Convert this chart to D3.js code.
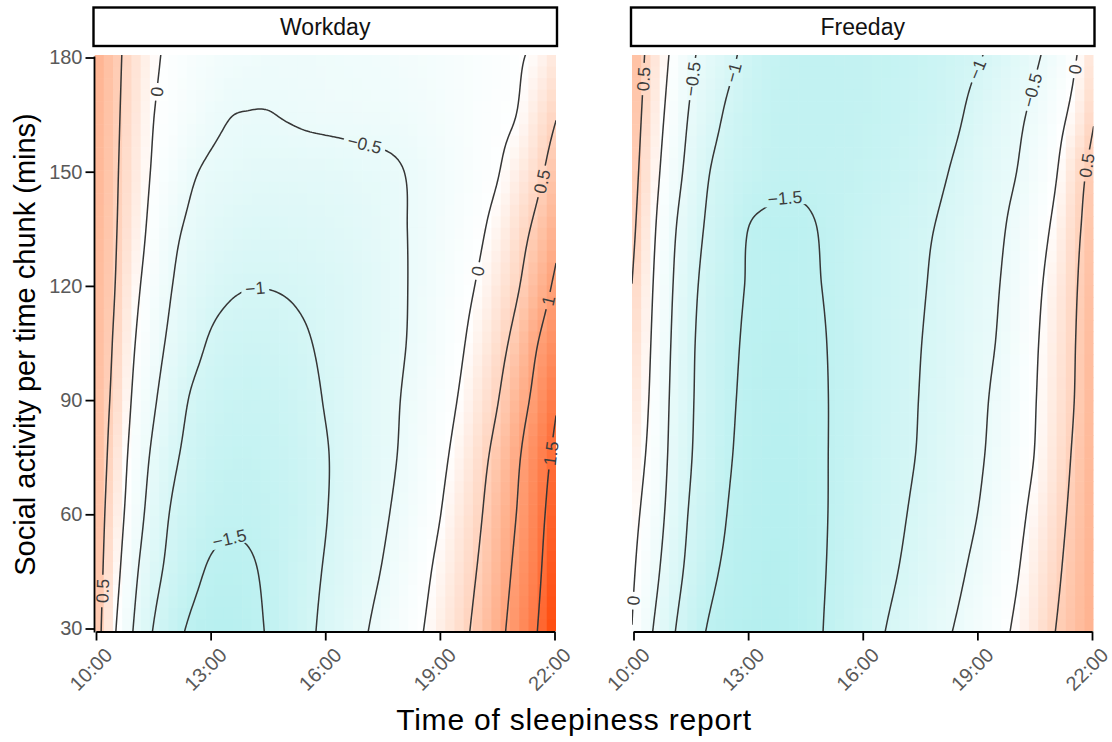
<!DOCTYPE html>
<html><head><meta charset="utf-8">
<script src="https://cdnjs.cloudflare.com/ajax/libs/d3/7.8.5/d3.min.js"></script>
<style>
body{margin:0;background:#fff}
svg{display:block}
text{font-family:"Liberation Sans",Arial,Helvetica,sans-serif}
</style>
</head><body>
<svg id="chart" width="1112" height="742"></svg>
<script>
// ---------- data ----------
const panels = ["Workday", "Freeday"];
const timeGrid = [10, 10.5, 11, 11.5, 12, 12.5, 13, 13.5, 14, 14.5, 15, 15.5, 16, 16.5, 17, 17.5, 18, 18.5, 19, 19.5, 20, 20.5, 21, 21.5, 22];
const activityGrid = [30, 45, 60, 75, 90, 105, 120, 135, 150, 165, 180];

// rows: one per activityGrid value (bottom -> top), columns: timeGrid
const workdayValues = [
  [0.68, 0.03, -0.53, -1.01, -1.33, -1.56, -1.64, -1.65, -1.59, -1.47, -1.28, -1.10, -0.91, -0.73, -0.55, -0.37, -0.20, -0.03, 0.17, 0.37, 0.60, 0.87, 1.16, 1.46, 1.85],
  [0.70, 0.15, -0.40, -0.84, -1.15, -1.39, -1.54, -1.57, -1.54, -1.44, -1.29, -1.13, -0.97, -0.81, -0.64, -0.48, -0.29, -0.11, 0.09, 0.30, 0.52, 0.79, 1.08, 1.38, 1.78],
  [0.72, 0.24, -0.26, -0.70, -1.05, -1.25, -1.39, -1.45, -1.44, -1.39, -1.31, -1.18, -1.02, -0.86, -0.71, -0.56, -0.39, -0.20, -0.01, 0.22, 0.44, 0.72, 1.00, 1.32, 1.68],
  [0.74, 0.32, -0.17, -0.58, -0.91, -1.14, -1.29, -1.36, -1.37, -1.33, -1.27, -1.16, -1.03, -0.88, -0.74, -0.61, -0.46, -0.27, -0.09, 0.12, 0.36, 0.62, 0.93, 1.25, 1.57],
  [0.72, 0.40, -0.07, -0.44, -0.76, -1.04, -1.18, -1.26, -1.28, -1.26, -1.20, -1.11, -0.98, -0.86, -0.74, -0.62, -0.49, -0.33, -0.16, 0.02, 0.25, 0.48, 0.79, 1.10, 1.43],
  [0.74, 0.45, 0.02, -0.32, -0.61, -0.85, -1.04, -1.13, -1.16, -1.15, -1.10, -1.03, -0.93, -0.83, -0.73, -0.63, -0.53, -0.39, -0.22, -0.06, 0.14, 0.36, 0.62, 0.96, 1.23],
  [0.76, 0.50, 0.11, -0.21, -0.50, -0.71, -0.86, -0.95, -0.99, -0.99, -0.97, -0.93, -0.88, -0.82, -0.74, -0.65, -0.54, -0.41, -0.27, -0.12, 0.03, 0.24, 0.45, 0.75, 1.05],
  [0.78, 0.53, 0.20, -0.12, -0.40, -0.58, -0.70, -0.77, -0.82, -0.83, -0.82, -0.80, -0.77, -0.73, -0.67, -0.61, -0.53, -0.42, -0.30, -0.18, -0.06, 0.11, 0.33, 0.57, 0.86],
  [0.80, 0.55, 0.25, -0.04, -0.24, -0.45, -0.56, -0.61, -0.65, -0.67, -0.67, -0.66, -0.65, -0.62, -0.59, -0.56, -0.51, -0.42, -0.32, -0.22, -0.12, -0.02, 0.17, 0.38, 0.66],
  [0.82, 0.57, 0.29, 0.01, -0.13, -0.27, -0.40, -0.49, -0.51, -0.51, -0.48, -0.45, -0.43, -0.42, -0.41, -0.40, -0.38, -0.33, -0.27, -0.20, -0.13, -0.07, 0.00, 0.23, 0.46],
  [0.85, 0.59, 0.33, 0.07, -0.09, -0.19, -0.27, -0.33, -0.37, -0.40, -0.40, -0.40, -0.39, -0.37, -0.36, -0.33, -0.30, -0.27, -0.24, -0.19, -0.15, -0.10, -0.04, 0.07, 0.26]
];
const freedayValues = [
  [-0.04, -0.49, -0.92, -1.27, -1.54, -1.64, -1.70, -1.72, -1.69, -1.62, -1.49, -1.34, -1.19, -1.03, -0.89, -0.75, -0.60, -0.46, -0.29, -0.13, 0.05, 0.26, 0.48, 0.67, 0.85],
  [0.03, -0.34, -0.78, -1.13, -1.41, -1.58, -1.66, -1.70, -1.69, -1.63, -1.51, -1.38, -1.24, -1.11, -0.98, -0.84, -0.70, -0.56, -0.40, -0.22, -0.04, 0.19, 0.41, 0.63, 0.84],
  [0.10, -0.22, -0.67, -1.05, -1.29, -1.52, -1.62, -1.67, -1.67, -1.62, -1.52, -1.40, -1.28, -1.16, -1.04, -0.91, -0.77, -0.64, -0.50, -0.31, -0.12, 0.10, 0.34, 0.58, 0.82],
  [0.18, -0.13, -0.60, -0.98, -1.23, -1.47, -1.59, -1.65, -1.66, -1.61, -1.52, -1.41, -1.30, -1.19, -1.08, -0.97, -0.83, -0.70, -0.56, -0.39, -0.19, 0.01, 0.27, 0.53, 0.80],
  [0.28, -0.08, -0.56, -0.95, -1.21, -1.44, -1.57, -1.62, -1.63, -1.59, -1.52, -1.41, -1.31, -1.20, -1.10, -0.99, -0.86, -0.73, -0.59, -0.43, -0.23, -0.02, 0.23, 0.48, 0.78],
  [0.37, -0.04, -0.52, -0.93, -1.19, -1.41, -1.55, -1.59, -1.60, -1.57, -1.51, -1.41, -1.31, -1.21, -1.11, -1.01, -0.89, -0.76, -0.62, -0.49, -0.27, -0.05, 0.20, 0.46, 0.76],
  [0.46, 0.01, -0.47, -0.88, -1.16, -1.37, -1.52, -1.55, -1.56, -1.54, -1.49, -1.40, -1.31, -1.22, -1.13, -1.04, -0.92, -0.79, -0.66, -0.53, -0.33, -0.10, 0.15, 0.43, 0.72],
  [0.55, 0.08, -0.40, -0.79, -1.09, -1.29, -1.50, -1.55, -1.56, -1.54, -1.47, -1.39, -1.31, -1.23, -1.15, -1.07, -0.97, -0.84, -0.71, -0.58, -0.40, -0.18, 0.06, 0.38, 0.66],
  [0.62, 0.17, -0.27, -0.66, -1.00, -1.19, -1.32, -1.41, -1.45, -1.44, -1.42, -1.40, -1.36, -1.31, -1.24, -1.16, -1.06, -0.93, -0.78, -0.64, -0.51, -0.29, -0.06, 0.29, 0.60],
  [0.68, 0.25, -0.16, -0.55, -0.83, -1.08, -1.25, -1.37, -1.43, -1.44, -1.44, -1.42, -1.39, -1.35, -1.30, -1.24, -1.16, -1.04, -0.88, -0.73, -0.59, -0.41, -0.17, 0.09, 0.44],
  [0.73, 0.33, -0.06, -0.43, -0.68, -0.90, -1.14, -1.30, -1.39, -1.43, -1.43, -1.42, -1.40, -1.37, -1.33, -1.28, -1.21, -1.12, -1.03, -0.89, -0.73, -0.56, -0.34, -0.07, 0.32]
];

const contourLevels = [-1.5, -1, -0.5, 0, 0.5, 1, 1.5];
const timeTicks = [10, 13, 16, 19, 22];
const timeTickLabels = ["10:00", "13:00", "16:00", "19:00", "22:00"];
const activityTicks = [30, 60, 90, 120, 150, 180];

// where the contour labels sit (level, time in hours, activity in mins)
const workdayLabelSpots = [
  {level: 0.5, time: 10.16, activity: 40},
  {level: 0, time: 11.6, activity: 171},
  {level: -0.5, time: 17.04, activity: 158},
  {level: -1, time: 14.16, activity: 118},
  {level: -1.5, time: 13.59, activity: 51},
  {level: 0, time: 20.0, activity: 124},
  {level: 0.5, time: 21.7, activity: 147},
  {level: 1, time: 21.86, activity: 116},
  {level: 1.5, time: 21.94, activity: 76}
];
const freedayLabelSpots = [
  {level: 0.5, time: 10.25, activity: 174},
  {level: -0.5, time: 11.56, activity: 174},
  {level: -1, time: 12.55, activity: 176},
  {level: -1.5, time: 13.99, activity: 141},
  {level: -1, time: 19.0, activity: 177},
  {level: -0.5, time: 20.44, activity: 171.5},
  {level: 0, time: 21.56, activity: 177},
  {level: 0.5, time: 21.87, activity: 152},
  {level: 0, time: 10.04, activity: 37}
];

const xTitle = "Time of sleepiness report";
const yTitle = "Social activity per time chunk (mins)";

// ---------- drawing ----------
const svg = d3.select("#chart");
const panelSpecs = [
  {name: panels[0], values: workdayValues, spots: workdayLabelSpots, x0: 96, x1: 554.5, yAxis: true},
  {name: panels[1], values: freedayValues, spots: freedayLabelSpots, x0: 633.5, x1: 1092, yAxis: false}
];
const yScale = d3.scaleLinear().domain([30, 180]).range([628.5, 57.5]);
const rasterTop = 55, rasterBottom = 631;

const maxAbs = d3.max(workdayValues.flat().concat(freedayValues.flat()), v => Math.abs(v));
const negInterp = d3.interpolateLab("#ffffff", "paleturquoise");
const posInterp = d3.interpolateLab("#ffffff", "orangered");
const fillColor = v => v < 0 ? negInterp(Math.min(1, -v / maxAbs)) : posInterp(Math.min(1, v / maxAbs));
const fmt = d3.format("");

function makeSampler(rows) {
  const nx = timeGrid.length, ny = activityGrid.length;
  const dx = timeGrid[1] - timeGrid[0], dy = activityGrid[1] - activityGrid[0];
  function at(i, j) {
    if (i < 0) return 2 * at(0, j) - at(1, j);
    if (i > nx - 1) return 2 * at(nx - 1, j) - at(nx - 2, j);
    if (j < 0) return 2 * at(i, 0) - at(i, 1);
    if (j > ny - 1) return 2 * at(i, ny - 1) - at(i, ny - 2);
    return rows[j][i];
  }
  const cr = (p0, p1, p2, p3, t) => 0.5 * (2 * p1 + (-p0 + p2) * t + (2 * p0 - 5 * p1 + 4 * p2 - p3) * t * t + (-p0 + 3 * p1 - 3 * p2 + p3) * t * t * t);
  return (h, v) => {
    const fx = (h - timeGrid[0]) / dx, fy = (v - activityGrid[0]) / dy;
    const i = Math.max(0, Math.min(nx - 2, Math.floor(fx)));
    const j = Math.max(0, Math.min(ny - 2, Math.floor(fy)));
    const tx = fx - i, ty = fy - j;
    const r = [-1, 0, 1, 2].map(d => cr(at(i - 1, j + d), at(i, j + d), at(i + 1, j + d), at(i + 2, j + d), tx));
    return cr(r[0], r[1], r[2], r[3], ty);
  };
}

function marching(grid, nx, ny, level) {
  const segs = [];
  for (let j = 0; j < ny - 1; j++) for (let i = 0; i < nx - 1; i++) {
    const a = grid[j * nx + i], b = grid[j * nx + i + 1], c = grid[(j + 1) * nx + i + 1], d = grid[(j + 1) * nx + i];
    const idx = (a >= level ? 1 : 0) | (b >= level ? 2 : 0) | (c >= level ? 4 : 0) | (d >= level ? 8 : 0);
    if (idx === 0 || idx === 15) continue;
    const e0 = () => [i + (level - a) / (b - a), j];
    const e1 = () => [i + 1, j + (level - b) / (c - b)];
    const e2 = () => [i + (level - d) / (c - d), j + 1];
    const e3 = () => [i, j + (level - a) / (d - a)];
    switch (idx) {
      case 1: case 14: segs.push([e3(), e0()]); break;
      case 2: case 13: segs.push([e0(), e1()]); break;
      case 3: case 12: segs.push([e3(), e1()]); break;
      case 4: case 11: segs.push([e1(), e2()]); break;
      case 6: case 9: segs.push([e0(), e2()]); break;
      case 7: case 8: segs.push([e3(), e2()]); break;
      case 5: segs.push([e3(), e0()]); segs.push([e1(), e2()]); break;
      case 10: segs.push([e0(), e1()]); segs.push([e3(), e2()]); break;
    }
  }
  return segs;
}

const defs = svg.append("defs");

panelSpecs.forEach((p, pi) => {
  const x = d3.scaleLinear().domain([timeTicks[0], timeTicks[timeTicks.length - 1]]).range([p.x0, p.x1]);
  const rl = p.x0 - 1.5, rr = p.x1 + 1.5;
  const f = makeSampler(p.values);

  defs.append("clipPath").attr("id", "clip" + pi)
    .append("rect").attr("x", rl).attr("y", rasterTop).attr("width", rr - rl).attr("height", rasterBottom - rasterTop);

  // raster tiles
  const NT = 50;
  const tw = (rr - rl) / NT, th = (rasterBottom - rasterTop) / NT;
  const tiles = [];
  for (let j = 0; j < NT; j++) for (let i = 0; i < NT; i++) {
    const cx = rl + (i + 0.5) * tw, cy = rasterTop + (j + 0.5) * th;
    tiles.push({x: rl + i * tw, y: rasterTop + j * th, v: f(x.invert(cx), yScale.invert(cy))});
  }
  svg.append("g").attr("clip-path", `url(#clip${pi})`)
    .selectAll("rect").data(tiles).join("rect")
    .attr("x", d => d.x).attr("y", d => d.y)
    .attr("width", tw + 0.6).attr("height", th + 0.6)
    .attr("fill", d => fillColor(d.v));

  // fine grid for contours
  const hMin = x.invert(rl), hMax = x.invert(rr);
  const vMin = yScale.invert(rasterBottom), vMax = yScale.invert(rasterTop);
  const NX = 241, NY = 181;
  const grid = new Float64Array(NX * NY);
  for (let j = 0; j < NY; j++) for (let i = 0; i < NX; i++) {
    grid[j * NX + i] = f(hMin + (hMax - hMin) * i / (NX - 1), vMin + (vMax - vMin) * j / (NY - 1));
  }
  const toPx = pt => [x(hMin + (hMax - hMin) * pt[0] / (NX - 1)), yScale(vMin + (vMax - vMin) * pt[1] / (NY - 1))];

  const levelSegs = new Map();
  contourLevels.forEach(lv => {
    levelSegs.set(lv, marching(grid, NX, NY, lv).map(s => [toPx(s[0]), toPx(s[1])]));
  });

  const mask = defs.append("mask").attr("id", "mask" + pi)
    .attr("maskUnits", "userSpaceOnUse").attr("x", 0).attr("y", 0).attr("width", 1112).attr("height", 742);
  mask.append("rect").attr("x", 0).attr("y", 0).attr("width", 1112).attr("height", 742).attr("fill", "#fff");

  const cg = svg.append("g").attr("clip-path", `url(#clip${pi})`).append("g").attr("mask", `url(#mask${pi})`);
  cg.selectAll("path").data(contourLevels).join("path")
    .attr("d", lv => levelSegs.get(lv).map(s => `M${s[0][0].toFixed(2)},${s[0][1].toFixed(2)}L${s[1][0].toFixed(2)},${s[1][1].toFixed(2)}`).join(""))
    .attr("fill", "none").attr("stroke", "#363636").attr("stroke-width", 1.5).attr("stroke-linecap", "round");

  // contour labels
  const lg = svg.append("g");
  p.spots.forEach(s => {
    const segs = levelSegs.get(s.level);
    const tx = x(s.time), ty = yScale(s.activity);
    let best = null, bd = Infinity;
    segs.forEach(sg => {
      const mx = (sg[0][0] + sg[1][0]) / 2, my = (sg[0][1] + sg[1][1]) / 2;
      const d = (mx - tx) ** 2 + (my - ty) ** 2;
      if (d < bd) { bd = d; best = [mx, my, sg]; }
    });
    if (!best) return;
    const [px, py, bs] = best;
    let rx = bs[1][0] - bs[0][0], ry = bs[1][1] - bs[0][1];
    let sx = 0, sy = 0;
    segs.forEach(sg => {
      const mx = (sg[0][0] + sg[1][0]) / 2, my = (sg[0][1] + sg[1][1]) / 2;
      if ((mx - px) ** 2 + (my - py) ** 2 < 100) {
        let ux = sg[1][0] - sg[0][0], uy = sg[1][1] - sg[0][1];
        if (ux * rx + uy * ry < 0) { ux = -ux; uy = -uy; }
        sx += ux; sy += uy;
      }
    });
    let ang = Math.atan2(sy, sx) * 180 / Math.PI;
    if (ang > 90) ang -= 180;
    if (ang < -90) ang += 180;
    const t = lg.append("text")
      .attr("transform", `translate(${px},${py}) rotate(${ang})`)
      .attr("text-anchor", "middle").attr("dy", "0.36em")
      .attr("font-size", 17.5).attr("fill", "#3d3d3d")
      .text(fmt(s.level));
    const len = t.node().getComputedTextLength();
    mask.append("rect")
      .attr("transform", `translate(${px},${py}) rotate(${ang})`)
      .attr("x", -len / 2 - 4).attr("y", -8).attr("width", len + 8).attr("height", 16)
      .attr("fill", "#000");
  });

  // strip
  svg.append("rect").attr("x", rl - 1).attr("y", 7.5).attr("width", rr - rl + 2).attr("height", 38.5)
    .attr("fill", "#fff").attr("stroke", "#000").attr("stroke-width", 2.4);
  svg.append("text").attr("x", (rl + rr) / 2).attr("y", 35).attr("text-anchor", "middle")
    .attr("font-size", 23).attr("fill", "#111").text(p.name);

  // x axis
  const xa = svg.append("g").attr("transform", `translate(0,${rasterBottom + 0.5})`)
    .call(d3.axisBottom(x).tickValues(timeTicks).tickFormat((d, i) => timeTickLabels[i]).tickSize(9).tickSizeOuter(0));
  xa.select(".domain").attr("stroke", "#000").attr("stroke-width", 1.8);
  xa.selectAll(".tick line").attr("stroke", "#000").attr("stroke-width", 1.8);
  xa.selectAll(".tick text")
    .attr("font-size", 20).attr("fill", "#595959")
    .attr("text-anchor", "end").attr("x", null).attr("y", null).attr("dy", null)
    .attr("transform", "translate(17,25) rotate(-45)");

  if (p.yAxis) {
    const ya = svg.append("g").attr("transform", `translate(${p.x0 - 1.5},0)`)
      .call(d3.axisLeft(yScale).tickValues(activityTicks).tickSize(9).tickSizeOuter(0).tickPadding(3));
    ya.select(".domain").remove();
    ya.append("line").attr("x1", 0).attr("x2", 0).attr("y1", yScale(180) - 1).attr("y2", rasterBottom + 1.4)
      .attr("stroke", "#000").attr("stroke-width", 1.8);
    ya.selectAll(".tick line").attr("stroke", "#000").attr("stroke-width", 1.8);
    ya.selectAll(".tick text").attr("font-size", 20).attr("fill", "#595959");
  }
});

// axis titles
svg.append("text").attr("x", 574).attr("y", 730).attr("text-anchor", "middle")
  .attr("font-size", 30).attr("letter-spacing", 0.8).attr("fill", "#000").text(xTitle);
svg.append("text").attr("transform", "translate(35,344.5) rotate(-90)").attr("text-anchor", "middle")
  .attr("font-size", 29).attr("fill", "#000").text(yTitle);
</script>
</body></html>
